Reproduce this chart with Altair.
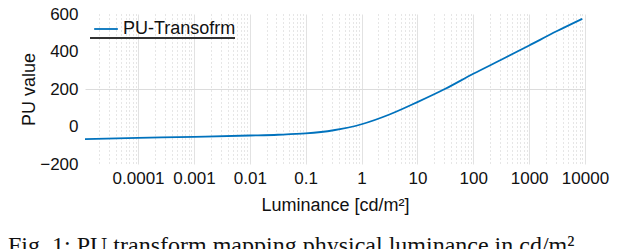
import altair as alt
import pandas as pd

# log10 of luminance (cd/m^2) and PU value
log_lum = [-4.95, -4.0, -3.0, -2.0, -1.5, -1.0, -0.5, 0.0, 0.5, 1.0, 1.5,
           2.0, 2.5, 3.0, 3.5, 3.95]
pu_value = [-67, -61, -55, -48, -44, -37, -20, 12, 64, 130, 201,
            281, 356, 432, 509, 574]
series_name = "PU-Transofrm"
x_domain = [10 ** -4.95, 10 ** 4]
y_ticks = [-200, 0, 200, 400, 600]
decades = [-5, -4, -3, -2, -1, 0, 1, 2, 3, 4]

grid_values = []
for d in decades:
    for m in range(1, 10):
        v = m * 10 ** d
        if x_domain[0] <= v <= x_domain[1] * 1.0001:
            grid_values.append(v)

df = pd.DataFrame({
    "lum": [10 ** v for v in log_lum],
    "pu": pu_value,
    "series": series_name,
})

FONT = "Liberation Sans"
major_test = "abs(log(datum.value)/LN10 - round(log(datum.value)/LN10)) < 1e-6"

line = alt.Chart(df).mark_line(strokeWidth=1.8, interpolate="monotone").encode(
    x=alt.X("lum:Q", scale=alt.Scale(type="log", domain=x_domain, nice=False),
            axis=alt.Axis(values=grid_values,
                          labelExpr=f"{major_test} ? format(datum.value, '') : ''",
                          labelOverlap=False, labelFlush=False, labelBound=False,
                          labelFontSize=17, labelFont=FONT,
                          labelColor="#111", labelPadding=6, ticks=False, domain=False,
                          grid=True,
                          gridColor=alt.condition(major_test, alt.value("#e2e2e2"), alt.value("#cccccc")),
                          gridDash=alt.condition(major_test, alt.value([]), alt.value([1, 3])),
                          gridWidth=1,
                          title="Luminance [cd/m²]", titleFont=FONT, titleFontSize=18,
                          titleFontWeight="normal", titleColor="#111", titlePadding=10)),
    y=alt.Y("pu:Q", scale=alt.Scale(domain=[-200, 600], nice=False),
            axis=alt.Axis(values=y_ticks, labelFontSize=17, labelFont=FONT,
                          labelColor="#111", labelPadding=7, ticks=False, domain=False,
                          labelFlush=False,
                          grid=True,
                          gridColor=alt.condition("datum.value === 200", alt.value("#dcdcdc"), alt.value("transparent")),
                          title="PU value", titleFont=FONT, titleFontSize=18,
                          titleFontWeight="normal", titleColor="#111", titlePadding=1)),
    color=alt.Color("series:N", scale=alt.Scale(range=["#0072BD"]),
                    legend=alt.Legend(title=None, orient="none", legendX=8, legendY=2,
                                      symbolType="stroke", symbolSize=560, symbolStrokeWidth=1.8,
                                      labelFont=FONT, labelFontSize=18, labelColor="#111",
                                      labelOffset=4)),
)

underline = alt.Chart(df).mark_rule(color="#333", strokeWidth=1).encode(
    x=alt.value(5), x2=alt.value(150), y=alt.value(24)
)

chart = alt.layer(line, underline).properties(
    width=500, height=150,
    autosize=alt.AutoSizeParams(type="none"),
    padding={"left": 77, "top": 6, "right": 47, "bottom": 110},
    title=alt.TitleParams("Fig. 1: PU transform mapping physical luminance in cd/m²",
                          orient="bottom", anchor="start", frame="group", dx=-77, offset=20,
                          font="Liberation Serif", fontSize=24, fontWeight="normal",
                          color="#111"),
).configure_view(stroke=None)

chart.save("out.html", embed_options={"renderer": "svg", "actions": False})
